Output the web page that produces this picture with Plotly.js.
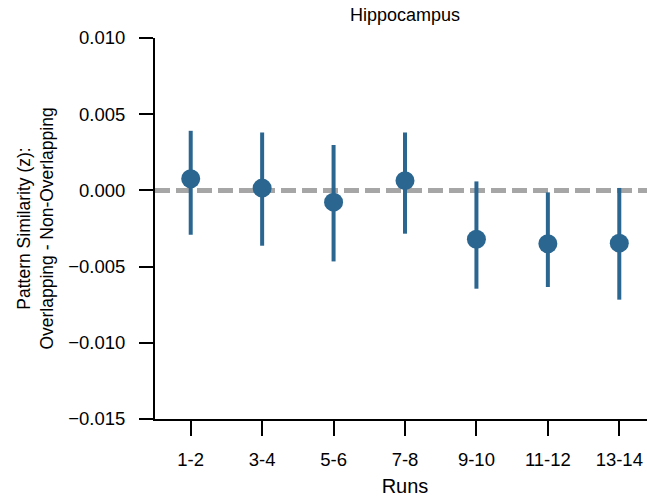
<!DOCTYPE html>
<html>
<head>
<meta charset="utf-8">
<script src="https://cdn.plot.ly/plotly-3.0.1.min.js"></script>
<style>html,body{margin:0;padding:0;background:#fff;overflow:hidden;width:647px;height:504px;}#chart{width:659px;height:504px;}</style>
</head>
<body>
<div id="chart"></div>
<script>
const runs = ["1-2", "3-4", "5-6", "7-8", "9-10", "11-12", "13-14"];
const meanDiff = [0.00076, 0.00015, -0.00077, 0.00064, -0.0032, -0.0035, -0.00346];
const ciUpper = [0.00391, 0.0038, 0.00298, 0.0038, 0.00059, -0.00013, 0.00016];
const ciLower = [-0.00291, -0.00363, -0.00466, -0.00284, -0.00645, -0.00634, -0.00717];
const yTicks = [0.010, 0.005, 0.000, -0.005, -0.010, -0.015];

const color = "#2a6690";
const errPlus = ciUpper.map((u, i) => u - meanDiff[i]);
const errMinus = ciLower.map((l, i) => meanDiff[i] - l);

const trace = {
  type: "scatter",
  mode: "markers",
  x: runs,
  y: meanDiff,
  marker: {color: color, size: 19},
  error_y: {type: "data", symmetric: false, array: errPlus, arrayminus: errMinus,
            color: color, thickness: 4, width: 0},
  hoverinfo: "x+y",
  showlegend: false
};

const font = {family: "Liberation Sans, Arial, sans-serif", color: "#000", size: 18.5};

const layout = {
  width: 659, height: 504,
  margin: {l: 155, r: 4, t: 38, b: 85},
  paper_bgcolor: "#fff", plot_bgcolor: "#fff",
  font: font,
  title: {text: "Hippocampus", font: {size: 18, color: "#000"}, xref: "paper", x: 0.5, xanchor: "center", y: 0.970, yanchor: "middle"},
  xaxis: {
    type: "category",
    range: [-0.5, 6.5],
    showgrid: false, zeroline: false,
    showline: true, linecolor: "#000", linewidth: 2,
    ticks: "outside", ticklen: 15, tickwidth: 2, tickcolor: "#000",
    ticklabelstandoff: 8,
    tickfont: {size: 18.5},
    title: {text: "Runs", font: {size: 20}, standoff: 10}
  },
  yaxis: {
    range: [-0.015, 0.010],
    tickvals: yTicks,
    tickformat: ".3f",
    showgrid: false, zeroline: false,
    showline: true, linecolor: "#000", linewidth: 2,
    ticks: "outside", ticklen: 14, tickwidth: 2, tickcolor: "#000",
    ticklabelstandoff: 10,
    tickfont: {size: 18.5},
    title: {text: "Pattern Similarity (z):<br>Overlapping - Non-Overlapping", font: {size: 17.5}, standoff: 10}
  },
  shapes: [{
    type: "line", xref: "paper", x0: 0, x1: 1, yref: "y", y0: 0, y1: 0,
    line: {color: "#a6a6a6", width: 5, dash: "15px,6px"}, layer: "below"
  }]
};

Plotly.newPlot("chart", [trace], layout, {displayModeBar: false, staticPlot: true});
</script>
</body>
</html>
